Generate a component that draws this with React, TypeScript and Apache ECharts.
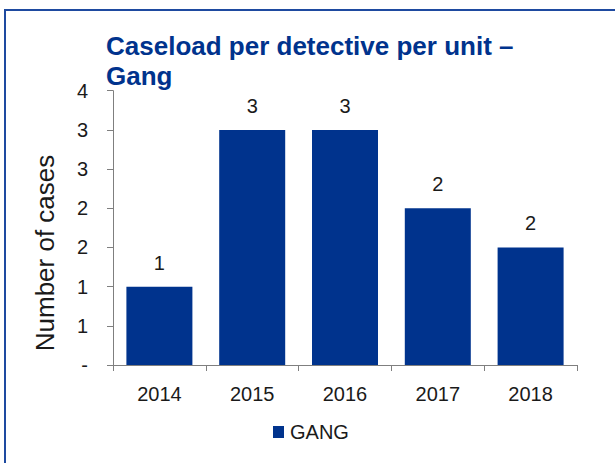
import React, { useEffect, useRef } from "react";
import * as echarts from "echarts";

const categories = ["2014", "2015", "2016", "2017", "2018"];
const caseload = [1, 3, 3, 2, 1.5];
const seriesName = "GANG";
const titleText = "Caseload per detective per unit –\nGang";
const yAxisName = "Number of cases";

const BLUE = "#00338D";
const TEXT = "#1a1a1a";
const FONT = "'Liberation Sans', Arial, sans-serif";

export default function App() {
  const ref = useRef<HTMLDivElement>(null);
  useEffect(() => {
    document.body.style.margin = "0";
    const chart = echarts.init(ref.current!, null, { renderer: "svg" });
    chart.setOption({
      animation: false,
      backgroundColor: "#ffffff",
      textStyle: { fontFamily: FONT },
      title: {
        text: titleText,
        left: 106,
        top: 31,
        padding: 0,
        textStyle: {
          color: BLUE,
          fontWeight: "bold",
          fontSize: 26,
          lineHeight: 30,
          fontFamily: FONT,
        },
      },
      legend: {
        data: [seriesName],
        left: 273,
        top: 422,
        padding: 0,
        itemWidth: 11,
        itemHeight: 12,
        icon: "rect",
        textStyle: { color: TEXT, fontSize: 20, fontFamily: FONT, padding: [0, 0, 0, 1] },
      },
      grid: { left: 113, right: 38, top: 90.7, bottom: 98, containLabel: false },
      xAxis: {
        type: "category",
        data: categories,
        axisLine: { show: true, lineStyle: { color: "#7f7f7f", width: 1 } },
        axisTick: { show: true, alignWithLabel: false, length: 6, lineStyle: { color: "#7f7f7f" } },
        axisLabel: { color: TEXT, fontSize: 20, margin: 19, fontFamily: FONT },
      },
      yAxis: {
        type: "value",
        min: 0,
        max: 3.5,
        interval: 0.5,
        splitLine: { show: false },
        axisLine: { show: true, lineStyle: { color: "#7f7f7f", width: 1 } },
        axisTick: { show: true, length: 6, lineStyle: { color: "#7f7f7f" } },
        axisLabel: {
          color: TEXT,
          fontSize: 20,
          margin: 25,
          fontFamily: FONT,
          formatter: (v: number) => (v === 0 ? "-" : String(Math.round(v))),
        },
      },
      graphic: [
        {
          type: "rect",
          shape: { x: 5, y: 10, width: 700, height: 600 },
          style: { fill: "none", stroke: "#1e4aa0", lineWidth: 2 },
          silent: true,
        },
        {
          type: "text",
          x: 45,
          y: 253,
          rotation: Math.PI / 2,
          style: {
            text: yAxisName,
            fill: TEXT,
            font: `26px ${FONT}`,
            align: "center",
            verticalAlign: "middle",
          },
        },
      ],
      series: [
        {
          name: seriesName,
          type: "bar",
          data: caseload,
          barWidth: 66,
          itemStyle: { color: BLUE },
          label: {
            show: true,
            position: "top",
            distance: 14,
            color: TEXT,
            fontSize: 20,
            fontFamily: FONT,
            formatter: (p: any) => String(Math.round(p.value)),
          },
        },
      ],
    });
    return () => chart.dispose();
  }, []);
  return (
    <div
      ref={ref}
      style={{ width: 615, height: 463, position: "absolute", left: 0, top: 0 }}
    />
  );
}
